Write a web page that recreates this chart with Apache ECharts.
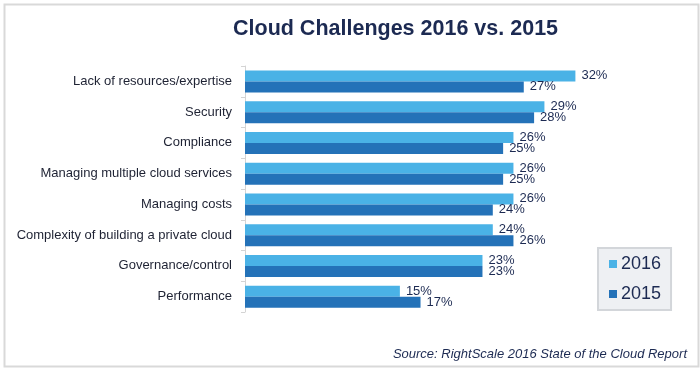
<!DOCTYPE html>
<html>
<head>
<meta charset="utf-8">
<script src="https://cdn.jsdelivr.net/npm/echarts@6/dist/echarts.min.js"></script>
<style>
html,body{margin:0;padding:0;background:#fff;}
#c{width:700px;height:368px;}
</style>
</head>
<body>
<div id="c"></div>
<script>
var categories = [
  "Lack of resources/expertise",
  "Security",
  "Compliance",
  "Managing multiple cloud services",
  "Managing costs",
  "Complexity of building a private cloud",
  "Governance/control",
  "Performance"
];
var values2016 = [32, 29, 26, 26, 26, 24, 23, 15];
var values2015 = [27, 28, 25, 25, 24, 26, 23, 17];
var seriesNames = ["2016", "2015"];
var titleText = "Cloud Challenges 2016 vs. 2015";
var sourceText = "Source: RightScale 2016 State of the Cloud Report";

var FONT = '"Liberation Sans", Arial, Helvetica, sans-serif';
var NAVY = '#1c2a52';
var chart = echarts.init(document.getElementById('c'), null, {renderer: 'canvas'});
var labelOpt = {
  show: true, position: 'right', distance: 6,
  color: NAVY, fontSize: 13, fontFamily: FONT,
  formatter: '{c}%'
};
chart.setOption({
  animation: false,
  backgroundColor: '#ffffff',
  title: {
    text: titleText,
    left: 228, top: 13,
    textStyle: {fontFamily: FONT, fontSize: 21.5, fontWeight: 'bold', color: NAVY}
  },
  graphic: [
    {type: 'rect', left: 2, top: 2, shape: {x: 0, y: 0, width: 694, height: 362},
     style: {fill: 'none', stroke: '#d9d9d9', lineWidth: 2}, silent: true},
    {type: 'text', right: 13, top: 348,
     style: {text: sourceText, fontFamily: FONT, fontSize: 13, fontStyle: 'italic', fill: NAVY}}
  ],
  legend: {
    orient: 'vertical',
    left: 598, top: 248,
    data: seriesNames,
    icon: 'rect', itemWidth: 8, itemHeight: 8, itemGap: 12,
    padding: [7, 10, 7, 11],
    backgroundColor: '#eef0f3',
    borderColor: '#d3d6da', borderWidth: 2,
    textStyle: {fontFamily: FONT, fontSize: 18, color: NAVY, padding: [0, 0, 0, -1]}
  },
  grid: {left: 245, right: 42, top: 66, bottom: 56, containLabel: false},
  xAxis: {
    type: 'value', min: 0, max: 40, show: false
  },
  yAxis: {
    type: 'category', data: categories, inverse: true,
    axisLine: {show: true, lineStyle: {color: '#d4d4d4', width: 1}},
    axisTick: {show: true, length: 4, lineStyle: {color: '#d4d4d4'}},
    axisLabel: {margin: 13, fontFamily: FONT, fontSize: 13, color: '#1e2233'}
  },
  series: [
    {name: seriesNames[0], type: 'bar', data: values2016, barWidth: 11, barGap: '0%',
     itemStyle: {color: '#4ab2e6'}, label: labelOpt},
    {name: seriesNames[1], type: 'bar', data: values2015, barWidth: 11, barGap: '0%',
     itemStyle: {color: '#2472b8'}, label: labelOpt}
  ]
});
</script>
</body>
</html>
